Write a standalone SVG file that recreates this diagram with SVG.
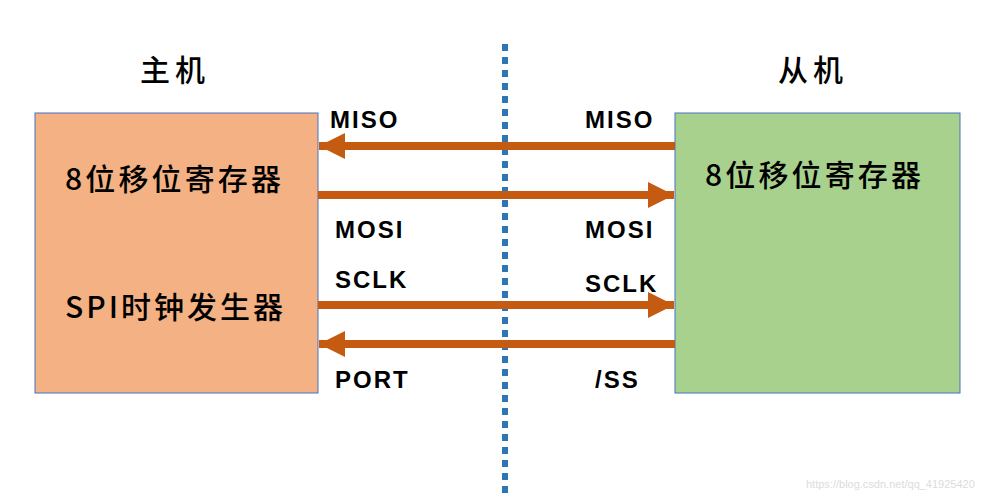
<svg xmlns="http://www.w3.org/2000/svg" width="998" height="500" viewBox="0 0 998 500">
<style>
.box{stroke:#4472C4;stroke-width:1}
.cn{font-family:"Noto Sans CJK SC","Liberation Sans",sans-serif;font-size:30px;font-weight:500;fill:#000}
.lbl{font-family:"Liberation Sans","DejaVu Sans",sans-serif;font-size:24px;fill:#000;letter-spacing:2px}
.ar{stroke:#C55A11;stroke-width:8;fill:none}
</style>
<defs>
<marker id="ah" markerUnits="userSpaceOnUse" markerWidth="26" markerHeight="26" refX="26" refY="13" orient="auto">
<path d="M0,0 L26,13 L0,26 Z" fill="#C55A11"/>
</marker>
</defs>
<rect width="998" height="500" fill="#fff"/>
<line x1="505" y1="44" x2="505" y2="496" stroke="#2E75B6" stroke-width="6" stroke-dasharray="7,6"/>
<g id="host">
<text class="cn" x="140" y="81" textLength="65" lengthAdjust="spacing">主机</text>
<rect class="box" x="35" y="113" width="283" height="280" fill="#F4B183"/>
<text class="cn" x="65" y="190" textLength="216" lengthAdjust="spacing">8位移位寄存器</text>
<text class="cn" x="65" y="318" textLength="218" lengthAdjust="spacing">SPI时钟发生器</text>
</g>
<g id="slave">
<text class="cn" x="778" y="81" textLength="65" lengthAdjust="spacing">从机</text>
<rect class="box" x="675" y="113" width="285" height="280" fill="#A9D18E"/>
<text class="cn" x="705" y="186" textLength="216" lengthAdjust="spacing">8位移位寄存器</text>
</g>
<g id="connectors">
<line class="ar" x1="675" y1="146" x2="319" y2="146" marker-end="url(#ah)"/>
<line class="ar" x1="318" y1="195" x2="674" y2="195" marker-end="url(#ah)"/>
<line class="ar" x1="318" y1="305" x2="674" y2="305" marker-end="url(#ah)"/>
<line class="ar" x1="675" y1="344" x2="319" y2="344" marker-end="url(#ah)"/>
</g>
<g id="labels" font-weight="bold">
<text class="lbl" x="330" y="128">MISO</text>
<text class="lbl" x="585" y="128">MISO</text>
<text class="lbl" x="335" y="238">MOSI</text>
<text class="lbl" x="585" y="238">MOSI</text>
<text class="lbl" x="335" y="288">SCLK</text>
<text class="lbl" x="585" y="292">SCLK</text>
<text class="lbl" x="335" y="388">PORT</text>
<text class="lbl" x="595" y="388">/SS</text>
</g>
<text x="806" y="488" font-family="Liberation Sans,sans-serif" font-size="11" fill="#dcdcdc">https://blog.csdn.net/qq_41925420</text>
</svg>
